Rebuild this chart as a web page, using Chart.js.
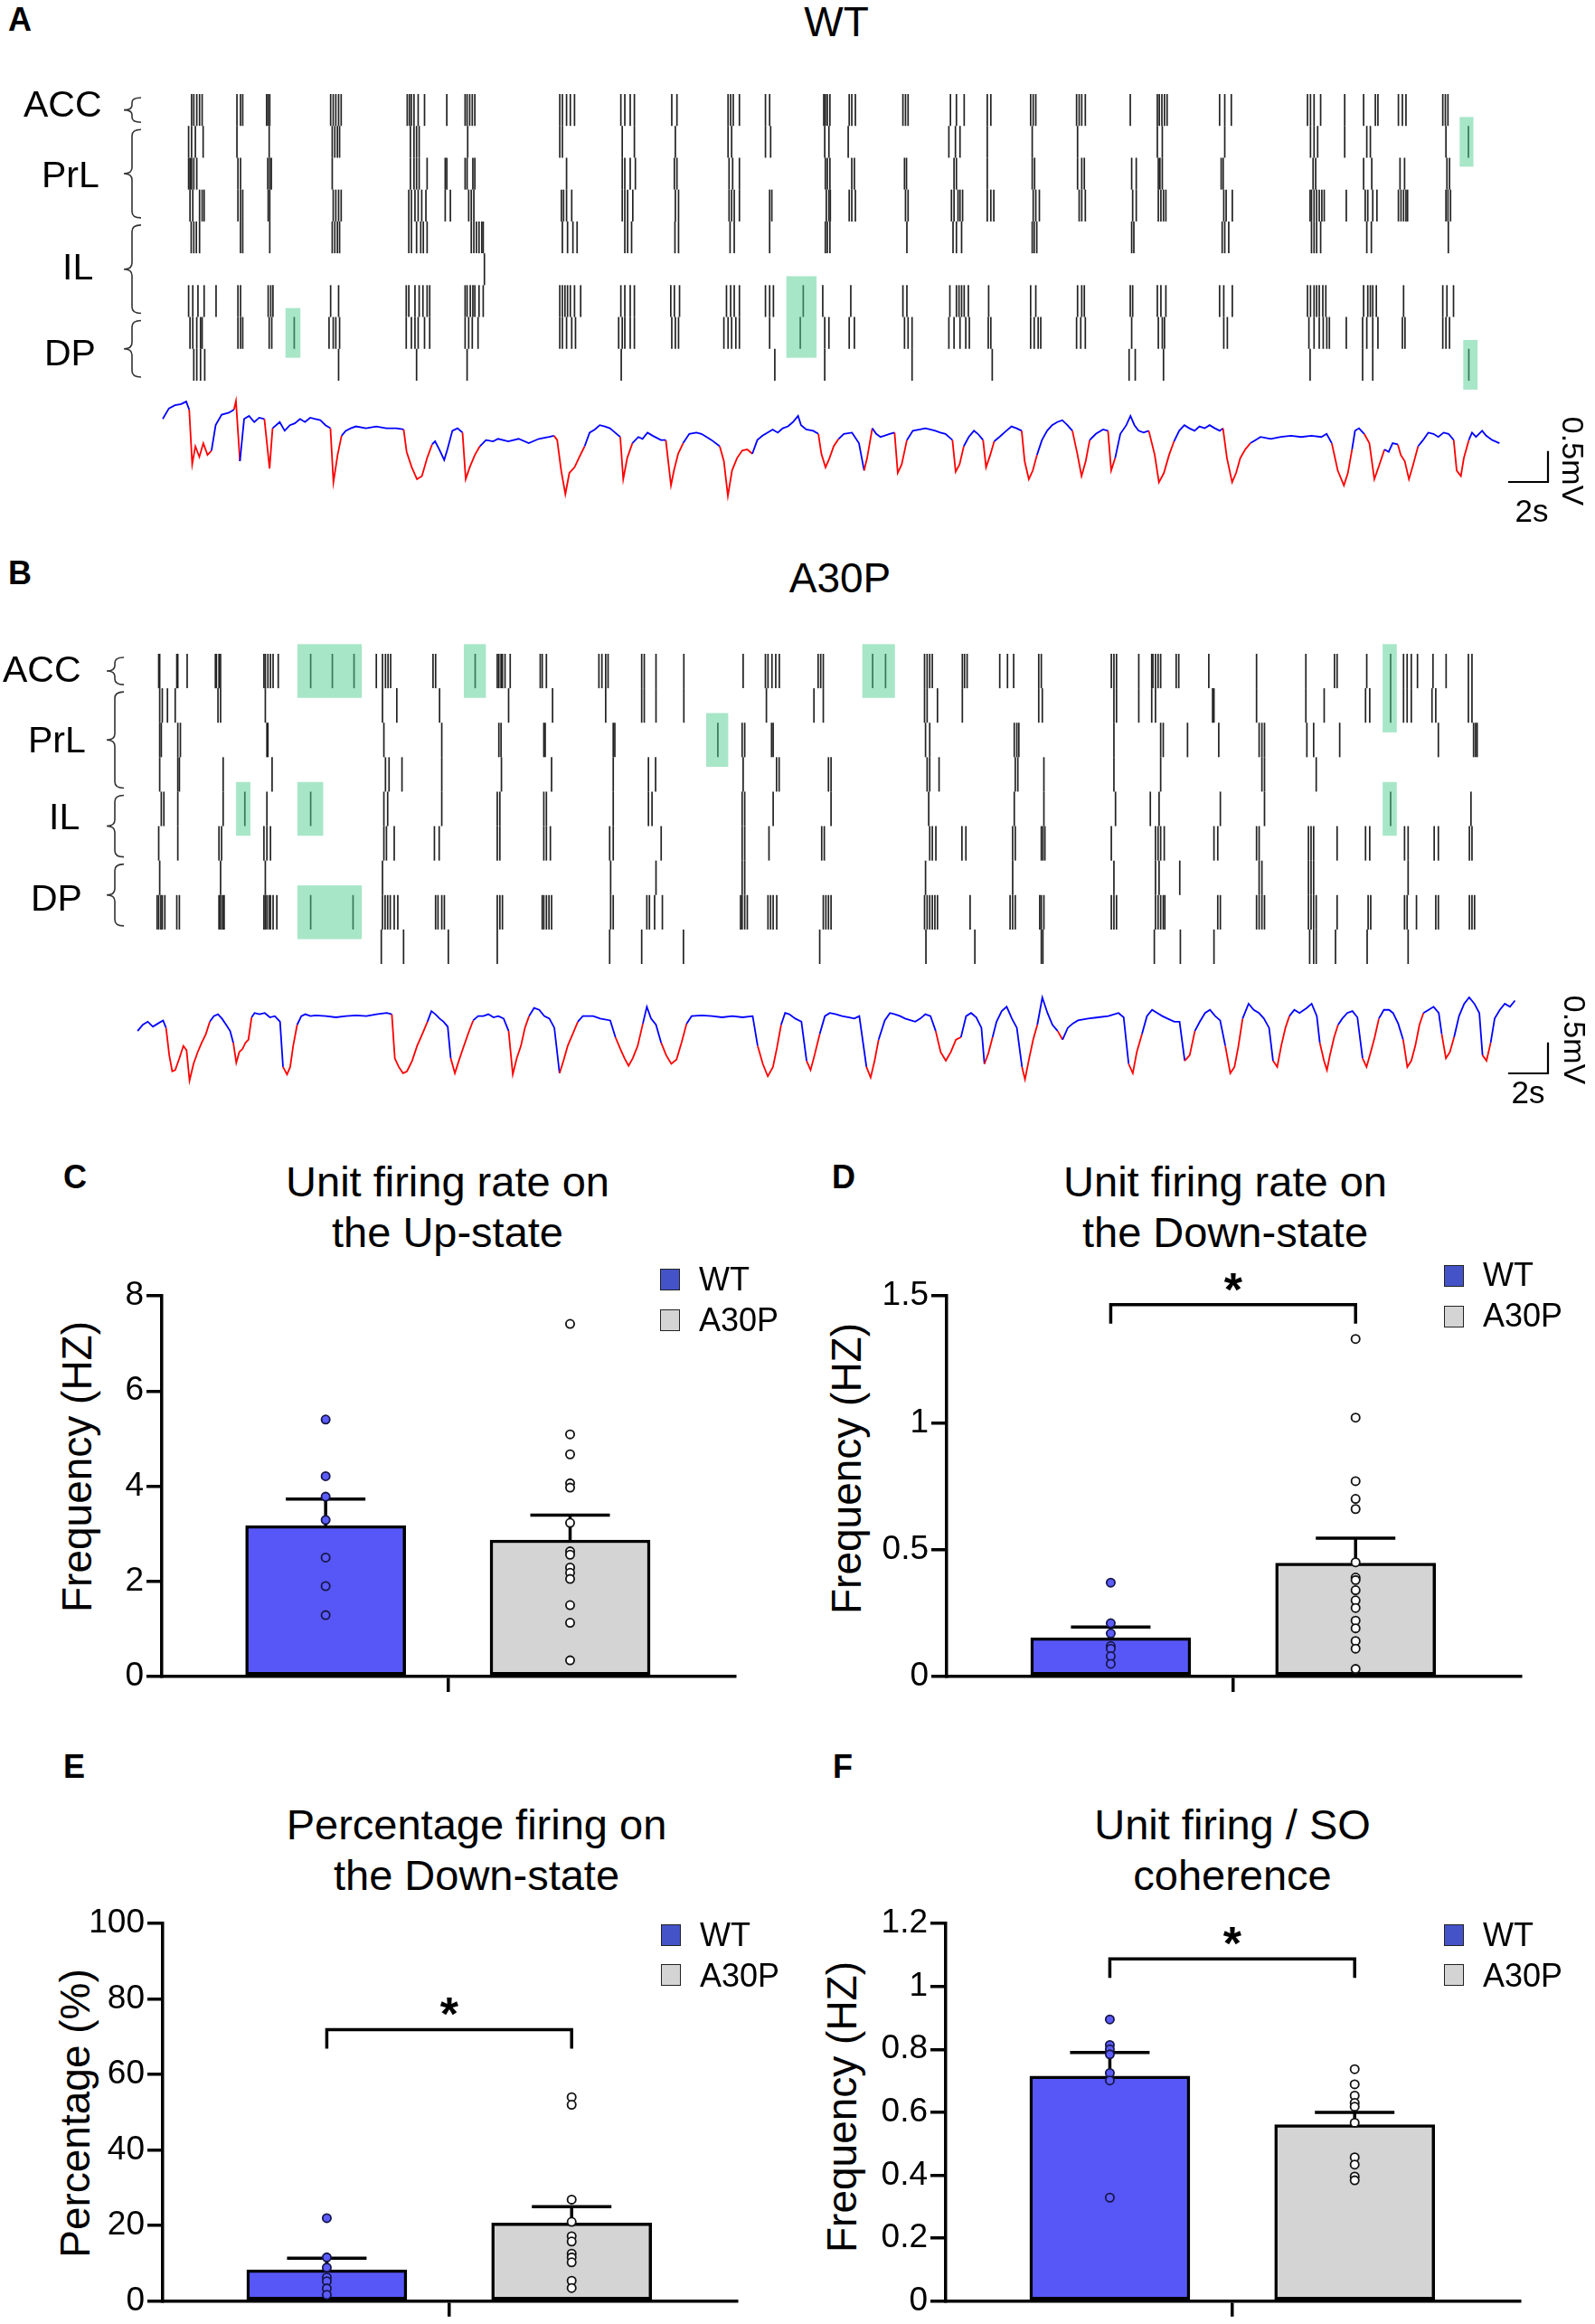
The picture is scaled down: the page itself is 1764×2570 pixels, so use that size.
<!DOCTYPE html>
<html lang="en">
<head>
<meta charset="utf-8">
<title>Unit firing and slow oscillation, WT vs A30P</title>
<script src="https://cdn.jsdelivr.net/npm/chart.js@4.4.0/dist/chart.umd.min.js"></script>
<style>
  body { margin: 0; background: #fff; }
  #fig { position: relative; width: 1764px; height: 2570px; overflow: hidden;
         font-family: "Liberation Sans", Arial, Helvetica, sans-serif; color: #000; }
  .txt { position: absolute; white-space: nowrap; line-height: 1; }
</style>
</head>
<body>
<div id="fig"></div>
<script>
// ---------- data ----------
const groups = ['WT', 'A30P'];
const regions = ['ACC', 'PrL', 'IL', 'DP'];

// spike times (s), one array per unit, WT (panel A)
const wtRow1 = [1.45,1.56,1.71,1.85,1.98,3.73,3.91,4.02,5.22,5.30,5.38,8.44,8.57,8.70,8.84,8.97,12.29,12.40,12.50,12.63,12.84,13.16,14.28,15.20,15.30,15.43,15.56,15.69,19.96,20.09,20.30,20.49,20.70,23.03,23.23,23.50,23.71,25.59,25.85,28.42,28.55,28.68,28.99,30.30,30.51,33.23,33.31,33.41,33.54,34.51,34.64,34.82,37.21,37.34,37.47,39.60,39.90,40.29,41.45,41.63,43.63,43.76,43.89,45.94,46.07,46.20,46.38,48.64,50.00,50.10,50.23,50.36,50.49,53.13,53.39,53.72,57.55,57.70,57.88,58.21,59.42,60.37,60.96,61.09,62.12,62.32,62.50,64.35,64.48,64.61];
const wtRow2 = [1.30,1.45,1.64,2.03,3.73,5.35,8.52,8.65,8.78,8.89,12.45,12.63,12.76,12.89,15.33,19.96,20.09,23.10,23.71,25.77,28.42,28.60,30.30,30.56,33.28,33.49,34.46,39.52,39.85,40.08,41.45,43.71,45.99,50.00,50.25,53.39,57.70,57.88,58.06,59.42,60.53,60.71,64.51,65.64];
const wtRow3 = [1.30,1.37,1.45,1.56,1.71,3.78,3.91,5.28,5.38,5.46,8.52,12.45,12.63,12.76,12.89,13.29,14.20,14.28,15.20,15.30,15.59,15.69,20.30,23.10,23.23,23.50,23.76,25.72,25.85,28.47,28.65,28.99,33.31,33.41,33.54,34.64,34.77,37.29,37.39,39.78,39.90,41.45,43.71,43.83,45.99,46.20,46.33,48.71,48.94,50.05,50.13,50.25,53.21,53.31,57.83,57.96,60.37,60.78,62.20,62.43,64.56,64.69];
const wtRow4 = [1.37,1.51,1.85,1.98,2.08,3.78,3.91,4.02,5.30,5.38,8.57,8.70,8.84,8.97,12.37,12.50,12.68,12.84,13.02,13.23,14.20,14.46,15.38,15.51,15.64,20.04,20.15,20.30,20.56,23.10,23.23,23.37,23.63,25.77,25.93,28.47,28.60,28.73,28.99,30.51,30.62,33.36,33.49,33.56,34.51,34.64,34.82,37.34,37.47,39.65,39.78,39.98,40.08,40.21,41.45,41.63,41.78,43.76,43.89,44.07,46.07,46.20,46.38,48.76,48.94,50.05,50.18,50.31,50.43,53.34,53.46,53.77,57.68,57.75,57.88,58.01,58.14,58.27,58.39,59.50,60.45,60.58,60.83,61.04,62.12,62.25,62.38,62.50,62.58,64.51,64.61,64.74];
const wtRow5 = [1.43,1.56,1.69,1.85,3.91,4.02,5.38,8.52,8.65,8.78,8.89,12.37,12.50,12.76,12.97,13.10,13.29,15.51,15.64,15.77,15.90,16.04,16.11,20.09,20.35,20.62,20.83,23.23,23.37,23.57,25.75,25.93,28.52,28.73,30.51,33.31,33.41,33.54,37.41,39.73,39.90,40.16,43.71,43.81,43.94,48.71,48.82,53.26,53.39,53.59,57.75,57.88,58.01,58.21,60.53,60.76,64.63];
const wtRow6 = [16.17];
const wtRow7 = [1.30,1.51,1.77,2.08,2.68,3.78,3.91,5.30,5.43,5.54,8.44,8.84,12.24,12.37,12.68,12.89,13.08,13.29,13.42,15.20,15.30,15.46,15.59,15.69,15.90,16.11,19.96,20.09,20.22,20.35,20.49,20.70,21.01,23.03,23.23,23.50,23.71,25.54,25.72,25.98,28.34,28.55,28.73,28.99,30.30,30.51,30.70,32.20,33.18,34.59,37.21,37.41,39.57,39.90,40.03,40.16,40.29,40.50,41.52,43.63,43.89,45.99,46.20,46.33,48.64,48.76,50.00,50.18,50.43,53.13,53.34,53.77,57.55,57.70,57.88,58.01,58.14,58.32,58.47,60.37,60.58,60.71,60.83,61.01,62.38,64.35,64.56,64.89];
const wtRow8 = [1.37,1.51,1.71,1.90,1.98,3.78,3.91,4.02,5.35,5.48,6.61,8.36,8.57,8.70,8.89,12.24,12.50,12.68,12.84,13.16,13.42,15.20,15.38,15.56,15.85,19.96,20.09,20.30,20.56,20.75,22.92,23.10,23.23,23.50,23.71,25.59,25.77,25.93,28.21,28.42,28.60,28.81,28.99,30.51,32.05,33.28,33.49,34.51,34.77,37.29,37.47,37.67,39.52,39.78,40.08,40.37,40.55,41.50,41.63,43.63,43.81,44.01,44.14,45.94,46.15,46.38,48.71,50.05,50.25,50.36,53.34,53.52,57.62,57.88,58.14,58.34,58.52,58.65,59.50,60.32,60.53,60.83,61.09,62.32,62.45,64.35,64.51,64.69];
const wtRow9 = [1.56,1.71,1.90,2.11,8.84,12.76,15.30,23.05,30.77,33.28,37.67,41.70,48.58,48.89,50.31,57.68,60.32,60.83,65.66];

// spike times (s), A30P (panel B)
const a30pRow1 = [1.16,1.21,2.07,2.12,2.59,4.01,4.06,4.19,4.27,6.45,6.52,6.65,6.78,6.91,7.17,8.80,9.89,10.98,12.10,12.41,12.56,12.69,12.82,14.95,15.08,17.07,18.18,18.26,18.37,18.44,18.57,18.83,20.34,20.44,20.65,23.29,23.44,23.63,23.75,25.44,25.57,26.16,27.56,30.54,31.66,31.79,31.99,32.18,32.36,34.31,34.44,34.57,37.05,37.70,39.66,39.79,39.92,40.05,41.56,41.67,41.80,43.44,43.83,44.14,45.40,45.53,49.05,49.18,49.31,50.43,51.08,51.14,51.27,51.40,51.53,52.31,52.44,53.95,56.35,58.83,60.27,60.40,61.89,63.09,63.74,63.92,64.13,64.44,65.22,65.88,67.00,67.18];
const a30pRow2 = [1.21,1.34,1.60,1.99,4.14,4.27,6.52,12.41,13.13,15.28,18.75,20.96,23.63,25.44,25.57,26.16,27.56,31.71,34.10,34.57,39.66,39.79,40.31,41.56,45.40,45.58,49.18,49.31,50.43,51.08,51.27,54.14,54.21,56.35,58.83,59.75,61.83,62.04,63.09,63.74,63.92,64.13,65.17,65.36,67.00,67.18];
const a30pRow3 = [1.21,1.29,2.12,2.25,6.60,6.65,12.48,15.39,18.26,18.37,20.52,20.59,24.01,24.09,29.27,30.49,30.62,31.97,32.05,39.71,39.92,44.17,44.30,44.40,49.18,51.53,51.66,52.88,54.45,56.48,56.62,56.75,58.88,59.22,60.53,65.49,67.26,67.36,67.44];
const a30pRow4 = [1.21,2.12,2.20,4.40,6.86,12.56,12.74,13.39,15.39,18.39,20.91,24.01,25.78,26.14,30.54,32.22,32.35,34.83,34.96,39.79,39.92,40.39,44.22,44.35,45.66,49.18,51.53,56.62,56.75,59.35];
const a30pRow5 = [1.29,1.42,2.12,4.40,5.49,6.60,8.80,12.48,12.67,15.39,18.18,18.31,20.52,20.65,24.01,25.78,25.96,30.49,30.62,32.05,34.96,39.87,44.17,45.66,49.26,51.01,51.45,54.53,56.75,63.09,67.13];
const a30pRow6 = [1.16,2.12,4.19,4.32,6.45,6.60,6.78,12.48,12.61,13.00,15.02,15.26,18.18,18.31,20.52,20.65,20.85,23.83,24.01,26.42,30.49,30.62,31.84,34.49,34.62,39.92,40.05,40.23,41.54,41.74,44.09,44.22,45.53,45.61,45.71,49.05,51.27,51.40,51.53,51.71,54.21,54.40,56.35,56.48,58.96,59.09,59.22,60.40,61.83,62.04,63.79,63.97,65.28,65.49,67.05,67.18];
const a30pRow7 = [1.21,4.27,6.52,12.41,23.88,26.16,30.49,30.62,39.71,44.09,49.18,51.27,51.45,52.49,56.48,56.62,58.96,59.09,59.22,63.97];
const a30pRow8 = [1.08,1.16,1.27,1.34,1.47,2.07,2.20,4.19,4.27,4.37,4.45,6.45,6.52,6.60,6.71,6.78,6.91,7.10,8.80,10.93,12.41,12.54,12.67,12.80,13.00,13.18,15.08,15.20,15.39,15.52,18.18,18.31,18.44,20.44,20.52,20.65,20.78,20.91,23.88,24.01,25.70,25.83,26.09,26.48,30.41,30.49,30.62,30.75,31.79,31.92,32.05,32.23,34.57,34.70,34.83,34.96,39.66,39.79,39.92,40.05,40.18,40.31,41.95,43.96,44.09,44.22,45.45,45.53,45.66,49.05,49.18,49.31,51.27,51.40,51.53,51.66,51.74,54.40,54.53,56.35,56.48,56.62,56.75,58.96,59.09,59.22,59.35,60.40,61.96,62.09,63.79,63.92,64.39,65.36,65.49,67.05,67.18,67.31];
const a30pRow9 = [12.35,13.47,15.72,18.18,23.83,25.44,27.54,34.39,39.73,42.19,45.53,45.61,51.21,52.52,54.21,59.02,59.22,59.35,60.32,61.91,63.97];

// region -> unit rows [first, last]
const wtRegionRows = [[1, 1], [2, 4], [5, 7], [8, 9]];
const a30pRegionRows = [[1, 1], [2, 4], [5, 6], [7, 8]];

// highlighted epochs [t start, t end, first row, last row]
const wtHighlights = [[6.17, 6.92, 8, 8], [31.35, 32.87, 7, 8], [65.20, 65.89, 2, 2], [65.38, 66.10, 9, 9]];
const a30pHighlights = [[8.13, 11.37, 1, 1], [16.50, 17.61, 1, 1], [36.53, 38.17, 1, 1], [62.69, 63.40, 1, 2],
                        [28.68, 29.79, 3, 3], [5.05, 5.77, 5, 5], [8.13, 9.43, 5, 5], [62.69, 63.40, 5, 5], [8.13, 11.37, 8, 8]];

// LFP traces [t (s), mV]
const lfpWT = [[0.00,0.34],[0.31,0.51],[0.61,0.56],[0.92,0.58],[1.18,0.62],[1.33,0.49],[1.48,-0.39],[1.64,-0.10],[1.84,-0.27],[2.04,-0.05],[2.25,-0.24],[2.45,-0.17],[2.66,0.24],[2.96,0.41],[3.32,0.44],[3.58,0.49],[3.68,0.63],[3.88,-0.34],[4.09,0.34],[4.34,0.39],[4.60,0.29],[4.85,0.36],[5.11,0.34],[5.37,-0.46],[5.52,0.19],[5.88,0.29],[6.13,0.15],[6.39,0.24],[6.64,0.27],[6.90,0.34],[7.15,0.29],[7.41,0.36],[7.67,0.34],[7.92,0.32],[8.18,0.24],[8.43,0.19],[8.58,-0.68],[8.79,-0.24],[8.99,0.07],[9.20,0.15],[9.45,0.19],[9.71,0.22],[10.22,0.19],[10.73,0.22],[11.24,0.19],[11.75,0.19],[12.11,0.17],[12.26,-0.19],[12.52,-0.44],[12.78,-0.63],[13.03,-0.58],[13.29,-0.29],[13.54,-0.07],[13.69,-0.02],[13.90,-0.15],[14.15,-0.32],[14.31,-0.15],[14.56,0.15],[14.82,0.19],[15.07,0.12],[15.23,-0.63],[15.43,-0.44],[15.69,-0.24],[15.94,-0.10],[16.25,0.00],[16.61,-0.02],[16.86,0.02],[17.37,-0.02],[17.89,0.02],[18.40,-0.05],[18.91,0.02],[19.42,0.05],[19.67,0.07],[19.83,0.00],[20.03,-0.49],[20.24,-0.87],[20.44,-0.53],[20.70,-0.44],[20.95,-0.27],[21.21,-0.10],[21.46,0.12],[21.72,0.17],[21.97,0.24],[22.23,0.22],[22.48,0.19],[22.74,0.12],[23.00,0.05],[23.15,-0.63],[23.35,-0.29],[23.61,-0.05],[23.91,0.05],[24.12,0.02],[24.37,0.12],[24.63,0.07],[25.04,0.00],[25.29,0.00],[25.55,-0.73],[25.70,-0.49],[25.91,-0.22],[26.16,-0.05],[26.47,0.10],[26.83,0.12],[27.08,0.10],[27.34,0.05],[27.59,0.00],[28.00,-0.10],[28.21,-0.34],[28.41,-0.90],[28.62,-0.49],[28.87,-0.29],[29.13,-0.17],[29.38,-0.15],[29.64,-0.22],[29.89,0.00],[30.15,0.07],[30.40,0.12],[30.66,0.17],[30.92,0.12],[31.17,0.19],[31.43,0.22],[31.68,0.29],[31.94,0.39],[32.09,0.24],[32.35,0.17],[32.70,0.15],[32.96,0.10],[33.11,-0.22],[33.32,-0.44],[33.52,-0.29],[33.73,-0.10],[33.98,0.02],[34.24,0.10],[34.65,0.12],[35.00,-0.05],[35.26,-0.49],[35.41,-0.29],[35.67,0.19],[35.87,0.10],[36.08,0.05],[36.28,0.07],[36.54,0.10],[36.79,0.12],[36.95,-0.53],[37.15,-0.39],[37.41,0.00],[37.71,0.15],[38.07,0.17],[38.33,0.19],[38.58,0.17],[38.84,0.15],[39.09,0.12],[39.35,0.10],[39.70,0.00],[39.86,-0.51],[40.06,-0.39],[40.27,-0.10],[40.52,0.05],[40.78,0.15],[40.98,0.10],[41.24,0.00],[41.39,-0.44],[41.60,-0.24],[41.80,-0.02],[42.06,0.05],[42.41,0.15],[42.67,0.22],[42.92,0.19],[43.18,0.15],[43.33,-0.34],[43.54,-0.63],[43.74,-0.49],[43.95,-0.24],[44.20,0.00],[44.46,0.15],[44.71,0.24],[44.97,0.29],[45.22,0.32],[45.48,0.24],[45.73,0.15],[45.99,-0.24],[46.19,-0.58],[46.40,-0.34],[46.60,0.00],[46.91,0.10],[47.27,0.17],[47.52,0.15],[47.68,-0.49],[47.88,-0.29],[48.14,0.10],[48.44,0.24],[48.65,0.39],[48.85,0.24],[49.06,0.15],[49.31,0.12],[49.57,0.15],[49.87,-0.24],[50.08,-0.68],[50.33,-0.53],[50.59,-0.24],[50.84,-0.02],[51.10,0.15],[51.36,0.24],[51.61,0.19],[51.87,0.15],[52.12,0.22],[52.38,0.19],[52.63,0.24],[52.89,0.19],[53.14,0.15],[53.30,0.19],[53.50,-0.29],[53.76,-0.68],[53.96,-0.53],[54.17,-0.29],[54.42,-0.15],[54.68,-0.05],[54.93,0.00],[55.19,0.05],[55.70,0.02],[56.21,0.05],[56.72,0.07],[57.23,0.05],[57.74,0.07],[58.25,0.05],[58.51,0.10],[58.77,-0.05],[59.07,-0.49],[59.38,-0.73],[59.58,-0.53],[59.79,-0.15],[59.94,0.15],[60.14,0.19],[60.40,0.10],[60.66,-0.05],[60.91,-0.63],[61.17,-0.39],[61.42,-0.15],[61.63,-0.19],[61.83,-0.05],[62.09,-0.07],[62.24,-0.24],[62.44,-0.34],[62.65,-0.63],[62.85,-0.41],[63.11,-0.10],[63.36,0.00],[63.62,0.12],[63.88,0.10],[64.13,0.05],[64.39,0.12],[64.64,0.10],[64.90,0.00],[65.05,-0.49],[65.26,-0.58],[65.41,-0.29],[65.66,0.00],[65.82,0.12],[66.02,0.05],[66.33,0.15],[66.53,0.07],[66.84,0.00],[67.20,-0.05]];
const lfpA30P = [[0.10,-0.05],[0.36,0.05],[0.61,0.10],[0.87,0.02],[1.12,0.07],[1.38,0.12],[1.53,0.00],[1.69,-0.44],[1.84,-0.70],[1.99,-0.68],[2.20,-0.49],[2.40,-0.29],[2.56,-0.36],[2.71,-0.85],[2.91,-0.58],[3.12,-0.39],[3.32,-0.24],[3.53,-0.10],[3.73,0.10],[3.93,0.19],[4.14,0.22],[4.34,0.15],[4.55,0.05],[4.75,-0.05],[4.91,-0.24],[5.06,-0.56],[5.21,-0.39],[5.37,-0.34],[5.52,-0.24],[5.67,-0.19],[5.83,0.17],[5.98,0.24],[6.23,0.22],[6.49,0.24],[6.75,0.17],[7.00,0.19],[7.26,0.10],[7.41,-0.63],[7.61,-0.75],[7.77,-0.63],[7.92,-0.29],[8.12,0.05],[8.33,0.19],[8.53,0.22],[8.79,0.19],[9.04,0.20],[9.56,0.19],[10.07,0.17],[10.58,0.19],[11.09,0.20],[11.60,0.19],[12.11,0.22],[12.62,0.24],[12.88,0.22],[13.03,-0.49],[13.23,-0.63],[13.44,-0.73],[13.64,-0.70],[13.90,-0.53],[14.15,-0.29],[14.41,-0.10],[14.67,0.10],[14.87,0.27],[15.07,0.22],[15.28,0.15],[15.48,0.10],[15.69,0.02],[15.84,-0.49],[16.05,-0.73],[16.25,-0.53],[16.45,-0.34],[16.71,-0.10],[16.97,0.12],[17.22,0.19],[17.48,0.19],[17.73,0.22],[17.99,0.17],[18.24,0.19],[18.50,0.15],[18.75,-0.05],[18.96,-0.75],[19.16,-0.49],[19.37,-0.29],[19.57,0.00],[19.78,0.19],[20.03,0.32],[20.29,0.29],[20.54,0.19],[20.80,0.15],[21.05,0.00],[21.31,-0.73],[21.51,-0.53],[21.72,-0.29],[21.97,-0.10],[22.23,0.10],[22.48,0.19],[22.74,0.19],[23.00,0.19],[23.35,0.15],[23.86,0.12],[24.12,-0.15],[24.37,-0.34],[24.58,-0.49],[24.78,-0.61],[24.99,-0.49],[25.24,-0.29],[25.50,0.07],[25.70,0.34],[25.91,0.15],[26.16,0.05],[26.42,-0.24],[26.67,-0.44],[26.93,-0.58],[27.19,-0.51],[27.44,-0.24],[27.70,0.07],[27.95,0.19],[28.46,0.20],[28.97,0.19],[29.48,0.17],[30.00,0.19],[30.51,0.17],[31.02,0.19],[31.27,-0.29],[31.53,-0.58],[31.78,-0.78],[32.04,-0.63],[32.24,-0.32],[32.45,0.05],[32.65,0.24],[32.86,0.22],[33.16,0.15],[33.47,0.10],[33.73,-0.53],[33.93,-0.68],[34.13,-0.44],[34.39,-0.10],[34.65,0.19],[34.90,0.24],[35.21,0.22],[35.51,0.19],[35.87,0.17],[36.13,0.15],[36.38,0.19],[36.74,-0.63],[36.95,-0.80],[37.15,-0.53],[37.35,-0.19],[37.66,0.12],[37.92,0.24],[38.17,0.22],[38.43,0.19],[38.68,0.15],[39.19,0.10],[39.45,0.15],[39.70,0.22],[39.96,0.19],[40.22,-0.05],[40.47,-0.39],[40.73,-0.53],[40.98,-0.39],[41.24,-0.19],[41.49,-0.15],[41.75,0.19],[42.00,0.24],[42.26,0.17],[42.52,0.00],[42.67,-0.58],[42.87,-0.41],[43.08,-0.15],[43.28,0.10],[43.54,0.27],[43.79,0.34],[44.05,0.15],[44.30,0.00],[44.56,-0.63],[44.71,-0.83],[44.92,-0.49],[45.12,-0.19],[45.33,0.05],[45.58,0.49],[45.84,0.24],[46.09,0.05],[46.35,-0.05],[46.60,-0.19],[46.86,0.00],[47.11,0.07],[47.37,0.12],[47.88,0.15],[48.39,0.17],[48.90,0.19],[49.41,0.24],[49.67,0.17],[49.92,-0.58],[50.13,-0.73],[50.33,-0.39],[50.59,-0.10],[50.84,0.19],[51.10,0.29],[51.36,0.24],[51.61,0.19],[51.87,0.15],[52.22,0.10],[52.48,0.10],[52.74,-0.53],[52.99,-0.44],[53.25,-0.05],[53.50,0.10],[53.76,0.24],[54.01,0.29],[54.27,0.19],[54.52,0.12],[54.78,-0.29],[55.03,-0.73],[55.24,-0.63],[55.44,-0.29],[55.65,0.15],[55.95,0.39],[56.21,0.29],[56.47,0.24],[56.72,0.15],[56.98,0.00],[57.18,-0.53],[57.39,-0.63],[57.59,-0.29],[57.80,0.00],[58.00,0.19],[58.25,0.29],[58.51,0.24],[58.87,0.32],[59.12,0.39],[59.38,0.19],[59.53,-0.24],[59.74,-0.53],[59.89,-0.68],[60.04,-0.44],[60.25,-0.15],[60.45,0.05],[60.66,0.15],[60.91,0.24],[61.17,0.27],[61.42,0.17],[61.68,-0.49],[61.88,-0.63],[62.09,-0.39],[62.29,-0.15],[62.50,0.15],[62.75,0.29],[63.01,0.29],[63.21,0.24],[63.47,0.07],[63.72,-0.19],[63.93,-0.63],[64.13,-0.53],[64.33,-0.29],[64.54,0.05],[64.74,0.24],[65.00,0.29],[65.25,0.34],[65.51,0.24],[65.66,-0.10],[65.87,-0.49],[66.07,-0.39],[66.28,-0.15],[66.53,0.19],[66.79,0.39],[67.04,0.49],[67.30,0.39],[67.55,0.24],[67.71,-0.44],[67.91,-0.53],[68.12,-0.24],[68.32,0.15],[68.58,0.29],[68.83,0.39],[69.09,0.34],[69.34,0.44]];

// down-state epochs (red part of the trace) [t start, t end]
const downWT = [[1.40,2.55],[3.62,3.98],[5.24,5.50],[8.50,8.95],[12.18,13.60],[15.15,16.00],[19.75,21.30],[23.07,23.70],[25.42,26.25],[28.10,29.75],[33.03,34.05],[35.13,35.55],[36.87,37.50],[39.78,40.35],[41.31,41.90],[43.25,44.05],[45.86,46.50],[47.60,48.00],[49.70,50.95],[53.40,54.80],[58.90,59.85],[60.53,61.50],[62.15,63.20],[64.97,65.55]];
const downA30P = [[1.60,3.70],[4.85,5.75],[7.35,8.05],[12.95,14.55],[15.78,16.85],[18.70,19.70],[21.20,22.10],[24.05,25.40],[26.35,27.60],[31.20,32.35],[33.65,34.50],[36.68,37.50],[40.15,41.62],[42.60,43.15],[44.50,45.45],[46.25,46.70],[49.85,50.70],[52.68,53.35],[54.72,55.55],[57.12,57.90],[59.48,60.55],[61.60,62.40],[63.65,64.65],[65.60,66.40],[67.65,68.20]];
const scaleBarSec = 2;
const scaleBarMV = 0.5;

// C: unit firing rate on the Up-state (Hz)
const upRateWT = [5.40, 4.21, 3.78, 3.29, 2.50, 1.90, 1.29];
const upRateA30P = [7.41, 5.09, 4.67, 4.06, 3.97, 3.23, 2.63, 2.56, 2.29, 2.18, 2.05, 1.50, 1.13, 0.34];
const upRateMean = [3.17, 2.87];
const upRateSem = [0.56, 0.52];
const upRateTicks = [0, 2, 4, 6, 8];

// D: unit firing rate on the Down-state (Hz)
const downRateWT = [0.37, 0.21, 0.17, 0.12, 0.11, 0.08, 0.05];
const downRateA30P = [1.33, 1.02, 0.77, 0.70, 0.66, 0.45, 0.39, 0.38, 0.34, 0.30, 0.27, 0.22, 0.19, 0.14, 0.11, 0.03];
const downRateMean = [0.153, 0.447];
const downRateSem = [0.042, 0.098];
const downRateTicks = [0, 0.5, 1, 1.5];

// E: percentage firing on the Down-state (%)
const downPctWT = [22.0, 11.6, 8.9, 6.3, 5.3, 3.4, 1.7];
const downPctA30P = [54.0, 52.0, 26.9, 21.0, 17.2, 15.8, 12.6, 11.6, 10.3, 5.4, 3.5];
const downPctMean = [8.3, 20.7];
const downPctSem = [3.1, 4.3];
const downPctTicks = [0, 20, 40, 60, 80, 100];

// F: unit firing / SO coherence
const cohWT = [0.895, 0.814, 0.800, 0.784, 0.725, 0.701, 0.329];
const cohA30P = [0.737, 0.689, 0.653, 0.630, 0.618, 0.567, 0.457, 0.434, 0.396, 0.384];
const cohMean = [0.715, 0.561];
const cohSem = [0.075, 0.039];
const cohTicks = [0, 0.2, 0.4, 0.6, 0.8, 1, 1.2];

// ---------- styling ----------
const FONT = '"Liberation Sans", Arial, Helvetica, sans-serif';
const BAR_FILL = ['#5757f8', '#d4d4d4'];
const KEY_FILL = ['#4453c8', '#d4d4d4'];
const DOT_FILL = ['#5c5cff', '#ffffff'];
const DOT_EDGE = ['#16164a', '#111111'];
const BLUE = '#0000ff', RED = '#ff0000', GREEN = 'rgba(81,205,145,0.5)';
const fig = document.getElementById('fig');

function addText(str, x, baseline, size, opts = {}) {
  const d = document.createElement('div');
  d.className = 'txt';
  d.textContent = str;
  d.style.fontSize = size + 'px';
  d.style.fontWeight = opts.bold ? 'bold' : 'normal';
  d.style.left = x + 'px';
  d.style.top = (baseline - 0.85 * size) + 'px';
  if (opts.align === 'center') d.style.transform = 'translateX(-50%)';
  fig.appendChild(d);
}

function addRotated(str, cx, cy, size, deg) {
  const d = document.createElement('div');
  d.className = 'txt';
  d.textContent = str;
  d.style.fontSize = size + 'px';
  d.style.left = cx + 'px';
  d.style.top = cy + 'px';
  d.style.transform = `translate(-50%,-50%) rotate(${deg}deg)`;
  fig.appendChild(d);
}

function addCanvas(left, top, w, h) {
  const c = document.createElement('canvas');
  c.width = w;
  c.height = h;
  c.style.cssText = `position:absolute;left:${left}px;top:${top}px;width:${w}px;height:${h}px`;
  fig.appendChild(c);
  return c;
}

function drawBrace(ctx, x, y0, y1, hook, tip) {
  const ym = (y0 + y1) / 2, r = Math.min(7, (y1 - y0) / 5);
  ctx.beginPath();
  ctx.moveTo(x + hook, y0);
  ctx.quadraticCurveTo(x, y0, x, y0 + r);
  ctx.lineTo(x, ym - r);
  ctx.quadraticCurveTo(x, ym, x - tip, ym);
  ctx.quadraticCurveTo(x, ym, x, ym + r);
  ctx.lineTo(x, y1 - r);
  ctx.quadraticCurveTo(x, y1, x + hook, y1);
  ctx.stroke();
}

const noUi = { legend: { display: false }, tooltip: { enabled: false } };

// ---------- raster plots ----------
function raster(cv, rows, cfg) {
  const pts = [];
  rows.forEach((times, i) => times.forEach(t => pts.push({ x: t, y: i + 1 })));
  const marks = {
    id: 'rasterMarks',
    afterDatasetsDraw(chart) {
      const { ctx } = chart, xs = chart.scales.x, ys = chart.scales.y;
      ctx.save();
      ctx.fillStyle = GREEN;
      cfg.highlights.forEach(([t0, t1, r0, r1]) => {
        const top = ys.getPixelForValue(r0 - 0.78), bot = ys.getPixelForValue(r1 + 0.78);
        const left = xs.getPixelForValue(t0);
        ctx.fillRect(left, top, xs.getPixelForValue(t1) - left, bot - top);
      });
      ctx.strokeStyle = '#333';
      ctx.lineWidth = 1.6;
      cfg.regionRows.forEach(([r0, r1]) => {
        drawBrace(ctx, cfg.braceX, ys.getPixelForValue(r0 - 0.5) + 4, ys.getPixelForValue(r1 + 0.5) - 4, 10, 9);
      });
      ctx.restore();
    }
  };
  return new Chart(cv, {
    type: 'scatter',
    data: { datasets: [{
      data: pts,
      pointStyle: 'line',
      pointRotation: 90,
      pointRadius: c => {
        const y = c.chart.scales.y;
        return Math.abs(y.getPixelForValue(1.5) - y.getPixelForValue(0.5)) / 2;
      },
      pointBorderColor: '#222',
      pointBorderWidth: 1.7,
      clip: false
    }] },
    options: {
      responsive: false, animation: false, events: [],
      layout: { padding: cfg.pad },
      scales: {
        x: { type: 'linear', min: 0, max: cfg.tMax, display: false },
        y: { type: 'linear', min: 0.5, max: rows.length + 0.5, reverse: true, display: false }
      },
      plugins: noUi
    },
    plugins: [marks]
  });
}

// ---------- LFP traces ----------
function trace(cv, data, downs, cfg) {
  const inDown = t => downs.some(([a, b]) => t >= a && t <= b);
  const bar = {
    id: 'scaleBar',
    afterDatasetsDraw(chart) {
      const { ctx } = chart, xs = chart.scales.x, ys = chart.scales.y;
      const w = xs.getPixelForValue(scaleBarSec) - xs.getPixelForValue(0);
      const h = ys.getPixelForValue(0) - ys.getPixelForValue(scaleBarMV);
      const [cx, cy] = cfg.barCorner;
      ctx.save();
      ctx.strokeStyle = '#000';
      ctx.lineWidth = 2.2;
      ctx.beginPath();
      ctx.moveTo(cx - w, cy);
      ctx.lineTo(cx, cy);
      ctx.lineTo(cx, cy - h);
      ctx.stroke();
      ctx.restore();
    }
  };
  return new Chart(cv, {
    type: 'line',
    data: { datasets: [{
      data: data.map(([t, v]) => ({ x: t, y: v })),
      borderColor: BLUE,
      borderWidth: 1.8,
      pointRadius: 0,
      tension: 0,
      clip: false,
      segment: { borderColor: s => inDown((s.p0.parsed.x + s.p1.parsed.x) / 2) ? RED : BLUE }
    }] },
    options: {
      responsive: false, animation: false, events: [],
      layout: { padding: cfg.pad },
      scales: {
        x: { type: 'linear', min: 0, max: cfg.tMax, display: false },
        y: { type: 'linear', min: cfg.vMin, max: cfg.vMax, display: false }
      },
      plugins: noUi
    },
    plugins: [bar]
  });
}

// ---------- bar + dot panels ----------
function barPanel(cv, cfg) {
  const extras = {
    id: 'errorBars',
    afterDatasetDraw(chart, args) {
      if (args.index !== 0) return;
      const { ctx } = chart, xs = chart.scales.x, ys = chart.scales.y;
      ctx.save();
      ctx.strokeStyle = '#000';
      ctx.lineWidth = 3.5;
      cfg.means.forEach((m, i) => {
        const px = xs.getPixelForValue(i + 1);
        const p0 = ys.getPixelForValue(m), p1 = ys.getPixelForValue(m + cfg.sems[i]);
        ctx.beginPath();
        ctx.moveTo(px, p0);
        ctx.lineTo(px, p1);
        ctx.moveTo(px - 44, p1);
        ctx.lineTo(px + 44, p1);
        ctx.stroke();
      });
      if (cfg.bracket !== undefined) {
        const xa = xs.getPixelForValue(1), xb = xs.getPixelForValue(2), yb = ys.getPixelForValue(cfg.bracket);
        ctx.beginPath();
        ctx.moveTo(xa, yb + 21);
        ctx.lineTo(xa, yb);
        ctx.lineTo(xb, yb);
        ctx.lineTo(xb, yb + 21);
        ctx.stroke();
        ctx.fillStyle = '#000';
        ctx.font = 'bold 52px ' + FONT;
        ctx.textAlign = 'center';
        ctx.textBaseline = 'alphabetic';
        ctx.fillText('*', (xa + xb) / 2, yb + 1);
      }
      ctx.restore();
    }
  };
  const axisGrid = { offset: false, drawOnChartArea: false, drawTicks: true, tickLength: 17, tickWidth: 3.5,
                     tickColor: '#000', color: '#000', lineWidth: 3.5 };
  return new Chart(cv, {
    type: 'bar',
    data: { datasets: [
      { type: 'bar', data: [1, 2].map((x, i) => ({ x, y: cfg.means[i] })), backgroundColor: BAR_FILL,
        borderColor: '#000', borderWidth: 3.5, borderSkipped: false, barThickness: 177, grouped: false, order: 2 },
      ...cfg.points.map((vals, g) => ({
        type: 'scatter', data: vals.map(v => ({ x: g + 1, y: v })), pointRadius: 4.6, pointBorderWidth: 1.8,
        pointBackgroundColor: DOT_FILL[g], pointBorderColor: DOT_EDGE[g], order: 1, clip: false
      }))
    ] },
    options: {
      responsive: false, animation: false, events: [],
      layout: { padding: cfg.pad },
      scales: {
        x: { type: 'linear', min: 0.33, max: 2.675, offset: false,
             afterBuildTicks: s => { s.ticks = [{ value: 1.5 }]; },
             afterFit: s => { s.height = cfg.xAxisH; },
             ticks: { callback: () => '', padding: 0 },
             grid: axisGrid, border: { color: '#000', width: 3.5 } },
        y: { type: 'linear', min: 0, max: cfg.ticks[cfg.ticks.length - 1],
             afterBuildTicks: s => { s.ticks = cfg.ticks.map(v => ({ value: v })); },
             afterFit: s => { s.width = cfg.yAxisW; },
             ticks: { font: { family: FONT, size: 37 }, color: '#000', padding: 3, callback: v => String(+v.toFixed(2)) },
             grid: axisGrid, border: { color: '#000', width: 3.5 } }
      },
      plugins: noUi
    },
    plugins: [extras]
  });
}

function legend(boxLeft, tops, baselines) {
  groups.forEach((g, i) => {
    const b = document.createElement('div');
    b.style.cssText = `position:absolute;left:${boxLeft}px;top:${tops[i]}px;width:22px;height:24px;` +
      `box-sizing:border-box;border:1.5px solid #222;background:${KEY_FILL[i]}`;
    fig.appendChild(b);
    addText(g, boxLeft + 43, baselines[i], 36);
  });
}

// ---------- panel A ----------
addText('A', 9, 35, 36, { bold: true });
addText(groups[0], 925, 40, 46, { align: 'center' });
raster(addCanvas(0, 90, 1764, 345),
  [wtRow1, wtRow2, wtRow3, wtRow4, wtRow5, wtRow6, wtRow7, wtRow8, wtRow9],
  { pad: { left: 180, right: 105, top: 14, bottom: 14 }, tMax: 67.23, highlights: wtHighlights,
    regionRows: wtRegionRows, braceX: 146 });
[[26, 130], [46, 208], [69, 310], [49, 405]].forEach(([x, b], i) => addText(regions[i], x, b, 41));
// canvas top 425: scale bar corner given in canvas pixels
trace(addCanvas(0, 425, 1764, 131), lfpWT, downWT,
  { pad: { left: 180, right: 105, top: 0, bottom: 0 }, tMax: 67.23, vMin: -1.01, vMax: 0.898, barCorner: [1712, 108] });
addText('2s', 1694, 577, 35, { align: 'center' });
addRotated('0.5mV', 1740, 510, 34, 90);

// ---------- panel B ----------
addText('B', 9, 647, 36, { bold: true });
addText(groups[1], 929, 655, 46, { align: 'center' });
raster(addCanvas(0, 700, 1764, 390),
  [a30pRow1, a30pRow2, a30pRow3, a30pRow4, a30pRow5, a30pRow6, a30pRow7, a30pRow8, a30pRow9],
  { pad: { left: 150, right: 87, top: 23, bottom: 24 }, tMax: 69.41, highlights: a30pHighlights,
    regionRows: a30pRegionRows, braceX: 127 });
[[3, 755], [31, 833], [54, 918], [34, 1008]].forEach(([x, b], i) => addText(regions[i], x, b, 41));
trace(addCanvas(0, 1090, 1764, 120), lfpA30P, downA30P,
  { pad: { left: 150, right: 87, top: 0, bottom: 0 }, tMax: 69.41, vMin: -1.068, vMax: 0.680, barCorner: [1712, 97] });
addText('2s', 1690, 1220, 35, { align: 'center' });
addRotated('0.5mV', 1742, 1150, 34, 90);

// ---------- panel C ----------
addText('C', 70, 1315, 36, { bold: true });
addText('Unit firing rate on', 495, 1323, 47, { align: 'center' });
addText('the Up-state', 495, 1379, 47, { align: 'center' });
addRotated('Frequency (HZ)', 85, 1622, 46, -90);
barPanel(addCanvas(0, 1400, 880, 480), { pad: { left: 0, right: 67, top: 33, bottom: 0 }, yAxisW: 179, xAxisH: 26,
  ticks: upRateTicks, means: upRateMean, sems: upRateSem, points: [upRateWT, upRateA30P] });
legend(730, [1403, 1448], [1428, 1473]);

// ---------- panel D ----------
addText('D', 920, 1315, 36, { bold: true });
addText('Unit firing rate on', 1355, 1323, 47, { align: 'center' });
addText('the Down-state', 1355, 1379, 47, { align: 'center' });
addRotated('Frequency (HZ)', 936, 1624, 46, -90);
barPanel(addCanvas(880, 1400, 884, 480), { pad: { left: 0, right: 82, top: 33, bottom: 0 }, yAxisW: 167, xAxisH: 26,
  ticks: downRateTicks, means: downRateMean, sems: downRateSem, points: [downRateWT, downRateA30P], bracket: 1.465 });
legend(1597, [1399, 1444], [1423, 1468]);

// ---------- panel E ----------
addText('E', 70, 1967, 36, { bold: true });
addText('Percentage firing on', 527, 2034, 47, { align: 'center' });
addText('the Down-state', 527, 2090, 47, { align: 'center' });
addRotated('Percentage (%)', 83, 2337, 46, -90);
barPanel(addCanvas(0, 2094, 880, 476), { pad: { left: 0, right: 65, top: 33, bottom: 0 }, yAxisW: 180, xAxisH: 22,
  ticks: downPctTicks, means: downPctMean, sems: downPctSem, points: [downPctWT, downPctA30P], bracket: 71.9 });
legend(731, [2128, 2172], [2153, 2198]);

// ---------- panel F ----------
addText('F', 921, 1967, 36, { bold: true });
addText('Unit firing / SO', 1363, 2034, 47, { align: 'center' });
addText('coherence', 1363, 2090, 47, { align: 'center' });
addRotated('Frequency (HZ)', 931, 2330, 46, -90);
barPanel(addCanvas(880, 2094, 884, 476), { pad: { left: 0, right: 83, top: 33, bottom: 0 }, yAxisW: 166, xAxisH: 22,
  ticks: cohTicks, means: cohMean, sems: cohSem, points: [cohWT, cohA30P], bracket: 1.087 });
legend(1597, [2128, 2172], [2153, 2198]);
</script>
</body>
</html>
